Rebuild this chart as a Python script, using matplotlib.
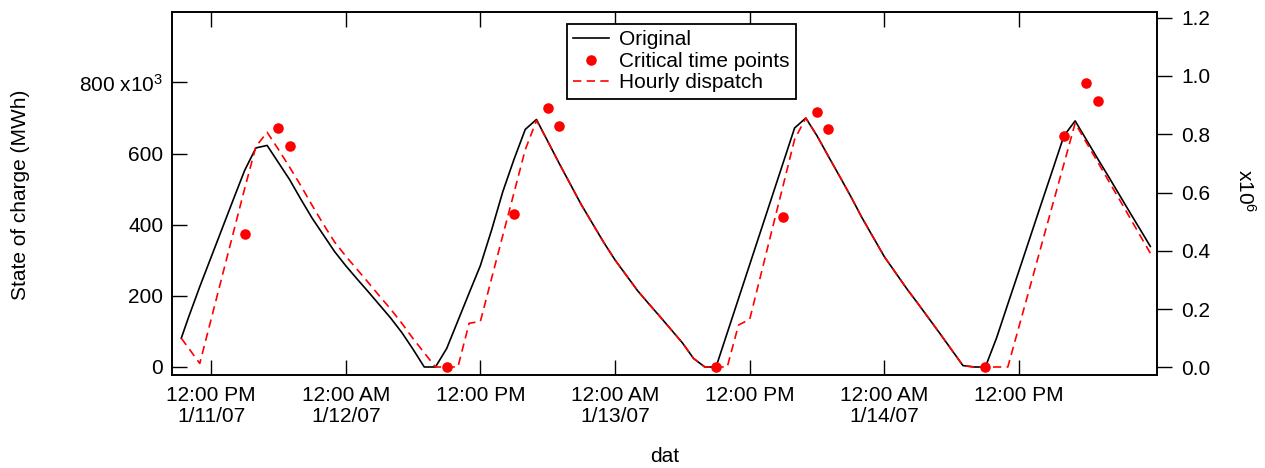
import matplotlib
matplotlib.use("Agg")
import matplotlib.pyplot as plt
from matplotlib.lines import Line2D

plt.rcParams['font.family'] = ['Liberation Sans', 'DejaVu Sans']
plt.rcParams['mathtext.fontset'] = 'custom'
plt.rcParams['mathtext.rm'] = 'Liberation Sans'
plt.rcParams['mathtext.it'] = 'Liberation Sans'
plt.rcParams['mathtext.default'] = 'regular'

# hours since 1/11/07 00:00
orig_hours = [9.35, 10, 11, 12, 13, 14, 15, 16, 17, 18, 19, 20, 21, 22, 23, 24, 25, 26, 27, 28,
              29, 30, 31, 32, 33, 34, 35, 36, 37, 38, 39, 40, 41, 42, 43, 44, 45, 46, 47, 48,
              49, 50, 51, 52, 53, 54, 55, 56, 57, 58, 59, 60, 61, 62, 63, 64, 65, 66, 67, 68,
              69, 70, 71, 72, 73, 74, 75, 76, 77, 78, 79, 80, 81, 82, 83, 84, 85, 86, 87, 88,
              89, 90, 91, 92, 93, 94, 95, 95.7]
orig_soc = [81, 140, 226, 308, 390, 472, 553, 616, 623, 575, 527, 472, 419, 372, 325, 285, 248, 212, 175, 138,
            97, 50, 0, 0, 52, 130, 208, 285, 385, 493, 584, 668, 696, 635, 574, 515, 456, 403, 350, 301,
            258, 215, 178, 142, 105, 68, 24, 0, 0, 96, 192, 288, 384, 480, 576, 672, 700, 650, 593, 537,
            480, 420, 365, 310, 265, 220, 178, 135, 92, 48, 4, 0, 0, 82, 177, 271, 366, 461, 555, 650,
            692, 639, 586, 534, 481, 428, 376, 339]

hourly_hours = [9.35, 11, 12, 13, 14, 15, 16, 17, 18, 19, 20, 21, 22, 23, 24, 25, 26, 27, 28,
                29, 30, 31, 32, 33, 34, 35, 36, 37, 38, 39, 40, 41, 42, 43, 44, 45, 46, 47, 48,
                49, 50, 51, 52, 53, 54, 55, 56, 57, 58, 59, 60, 61, 62, 63, 64, 65, 66, 67, 68,
                69, 70, 71, 72, 73, 74, 75, 76, 77, 78, 79, 80, 81, 82, 83, 84, 85, 86, 87, 88,
                89, 90, 91, 92, 93, 94, 95, 95.7]
hourly_soc = [81, 10, 133, 256, 379, 502, 620, 660, 612, 562, 510, 455, 402, 352, 312, 275, 238, 200, 163,
              123, 80, 40, 0, 0, 0, 123, 128, 249, 370, 490, 611, 693, 635, 574, 515, 456, 403, 350, 301,
              258, 215, 178, 142, 105, 68, 24, 0, 0, 0, 118, 134, 260, 387, 513, 640, 700, 650, 593, 537,
              480, 420, 365, 310, 265, 220, 178, 135, 92, 48, 4, 0, 0, 0, 0, 114, 228, 343, 457, 571,
              686, 631, 577, 522, 468, 413, 358, 320]

crit_hours = [15, 18, 19, 33, 39, 42, 43, 57, 63, 66, 67, 81, 88, 90, 91]
crit_soc_millions = [0.457, 0.820, 0.760, 0.0, 0.525, 0.889, 0.829, 0.0, 0.515, 0.877, 0.818, 0.0,
                     0.794, 0.975, 0.915]

xtick_hours = [12, 24, 36, 48, 60, 72, 84]
xtick_labels = ["12:00 PM\n1/11/07", "12:00 AM\n1/12/07", "12:00 PM", "12:00 AM\n1/13/07",
                "12:00 PM", "12:00 AM\n1/14/07", "12:00 PM"]
left_ticks = [0, 200, 400, 600, 800]
left_labels = ["0", "200", "400", "600", "800 x10$^{3}$"]
right_ticks = [0.0, 0.2, 0.4, 0.6, 0.8, 1.0, 1.2]
right_labels = ["0.0", "0.2", "0.4", "0.6", "0.8", "1.0", "1.2"]

W, H = 1265, 468
fig = plt.figure(figsize=(W / 100, H / 100), dpi=100)
L, R, T, B = 172.3, 1157.3, 11.7, 375.0
ax = fig.add_axes([L / W, 1 - B / H, (R - L) / W, (B - T) / H])
ax2 = ax.twinx()

FS = 15
tick_len = 10.8

l1, = ax.plot(orig_hours, orig_soc, color='black', lw=1.2, label='Original', zorder=3)
l3, = ax.plot(hourly_hours, hourly_soc, color='#ff0000', lw=1.2, dashes=[5.0, 3.2],
              label='Hourly dispatch', zorder=4)
l2, = ax2.plot(crit_hours, crit_soc_millions, 'o', color='#ff0000', ms=7.6, mec='none',
               label='Critical time points', zorder=5)

ax.set_xlim(8.55, 96.32)
ax.set_ylim(-22.5, 999)
ax2.set_ylim(-0.0264, 1.2207)

ax.set_xticks(xtick_hours)
ax.set_xticklabels(xtick_labels, fontsize=FS, linespacing=1.1)
ax.set_yticks(left_ticks)
ax.set_yticklabels(left_labels, fontsize=FS)
ax2.set_yticks(right_ticks)
ax2.set_yticklabels(right_labels, fontsize=FS)

ax.tick_params(axis='x', direction='in', length=tick_len, width=1.0, top=True, bottom=True,
               pad=8.0)
ax.tick_params(axis='y', direction='in', length=tick_len, width=1.0, left=True, right=False,
               pad=6.5)
ax2.tick_params(axis='y', direction='out', length=tick_len, width=1.0, pad=6.5)

for a in (ax, ax2):
    for s in a.spines.values():
        s.set_linewidth(1.2)

fig.text(21 / W, 1 - 194.5 / H, "State of charge (MWh)", rotation=90, ha='center', va='center',
         fontsize=FS)
fig.text(664.5 / W, 1 - 457 / H, "dat", ha='center', va='center', fontsize=FS)
fig.text(1245 / W, 1 - 191 / H, "x10$^{6}$", rotation=-90, ha='center', va='center', fontsize=FS)

leg = ax2.legend(handles=[l1, l2, l3], loc='upper left', bbox_to_anchor=(0.4007, 0.966),
                 borderaxespad=0, fontsize=FS, frameon=True, fancybox=False, handlelength=1.7,
                 handletextpad=0.5, labelspacing=0.12, borderpad=0.3, numpoints=1)
fr = leg.get_frame()
fr.set_edgecolor('black')
fr.set_linewidth(1.3)
fr.set_alpha(1)

fig.savefig("out.png", dpi=100)
